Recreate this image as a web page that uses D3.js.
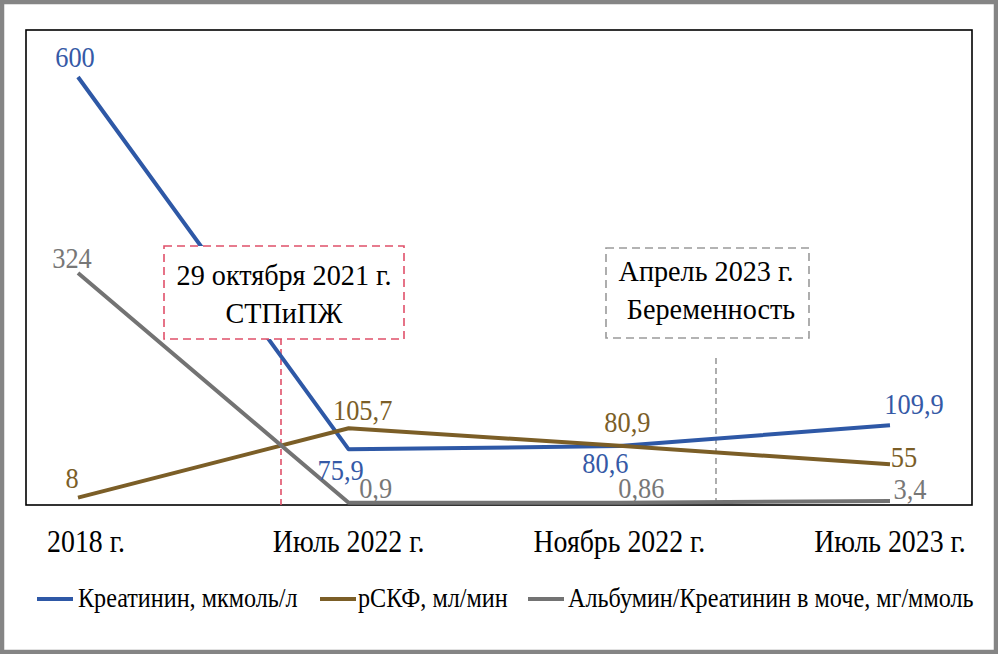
<!DOCTYPE html>
<html>
<head>
<meta charset="utf-8">
<script src="https://cdn.jsdelivr.net/npm/d3@7"></script>
<style>
  html, body { margin: 0; padding: 0; background: #fff; }
  svg { display: block; }
</style>
</head>
<body>
<svg id="chart" width="998" height="654"></svg>
<script>
// ---- data ----
const categories = ["2018 г.", "Июль 2022 г.", "Ноябрь 2022 г.", "Июль 2023 г."];
const creatinine = [600, 75.9, 80.6, 109.9];
const egfr = [8, 105.7, 80.9, 55];
const acr = [324, 0.9, 0.86, 3.4];
const seriesNames = ["Креатинин, мкмоль/л", "рСКФ, мл/мин", "Альбумин/Креатинин в моче, мг/ммоль"];
const annotationTexts = [["29 октября 2021 г.", "СТПиПЖ"], ["Апрель 2023 г.", "Беременность"]];

// ---- layout / style ----
const W = 998, H = 654;
const FONT = "'Liberation Serif', 'Times New Roman', Tinos, Times, 'DejaVu Serif', serif";
const plot = { left: 26, top: 30, right: 972, bottom: 505 };
const colors = ["#2e58a6", "#7b5e27", "#737373"];
const labelColors = ["#3559a6", "#7b5e27", "#777777"];
const SX = 0.87;

const svg = d3.select("#chart");

const x = d3.scalePoint().domain(categories).range([78, 890]);
const y = d3.scaleLinear().domain([0, 600]).range([503.3, 77]);

function txt(g, str, tx, ty, size, color, anchor, sx) {
  return g.append("text")
    .attr("transform", `translate(${tx},${ty}) scale(${sx || SX},1)`)
    .attr("text-anchor", anchor || "middle")
    .style("font-family", FONT)
    .style("font-size", size + "px")
    .attr("fill", color)
    .text(str);
}

// outer border
svg.append("rect").attr("x", 0).attr("y", 0).attr("width", W).attr("height", H)
  .attr("fill", "#fff");
svg.append("rect").attr("x", 2).attr("y", 2).attr("width", W - 4).attr("height", H - 4)
  .attr("fill", "none").attr("stroke", "#858585").attr("stroke-width", 4.5);

// plot frame
svg.append("rect")
  .attr("x", plot.left).attr("y", plot.top)
  .attr("width", plot.right - plot.left).attr("height", plot.bottom - plot.top)
  .attr("fill", "none").attr("stroke", "#000").attr("stroke-width", 1.6);

// x axis labels via d3 axis (no lines)
const xAxis = svg.append("g").attr("transform", `translate(0,${552})`)
  .call(d3.axisBottom(x).tickSize(0).tickPadding(0));
xAxis.select(".domain").remove();
xAxis.selectAll(".tick text")
  .style("font-family", FONT)
  .style("font-size", "32px")
  .attr("fill", "#000")
  .attr("dy", 0).attr("y", 0)
  .attr("transform", `scale(${0.87},1)`);
xAxis.selectAll(".tick").attr("transform", d => `translate(${x(d) + (d === categories[0] ? 8 : 0)},0)`);

// vertical marker lines
const markers = [
  { xv: 281, y1: 339, color: "#e0506a" },
  { xv: 716, y1: 358, color: "#9a9a9a" }
];
markers.forEach(m => {
  svg.append("line").attr("x1", m.xv).attr("x2", m.xv)
    .attr("y1", m.y1).attr("y2", plot.bottom)
    .attr("stroke", m.color).attr("stroke-width", 1.6).attr("stroke-dasharray", "6,4");
});

// series lines
const allSeries = [creatinine, egfr, acr];
const line = d3.line().x((d, i) => x(categories[i])).y(d => y(d));
allSeries.forEach((s, k) => {
  svg.append("path").datum(s)
    .attr("d", line)
    .attr("fill", "none")
    .attr("stroke", colors[k])
    .attr("stroke-width", 4)
    .attr("stroke-linejoin", "round")
    .attr("stroke-linecap", "butt");
});

// annotation boxes (white fill hides lines beneath)
const boxes = [
  { x: 164, y: 246, w: 240, h: 93, color: "#e0506a", cx: 284, b1: 285, b2: 323 },
  { x: 606, y: 248, w: 203, h: 90, color: "#9a9a9a", cx: 706, b1: 281, b2: 319 }
];
boxes.forEach((b, i) => {
  svg.append("rect").attr("x", b.x).attr("y", b.y).attr("width", b.w).attr("height", b.h)
    .attr("fill", "#fff").attr("stroke", b.color).attr("stroke-width", 1.6)
    .attr("stroke-dasharray", "8,5");
  txt(svg, annotationTexts[i][0], b.cx, b.b1, 30, "#000", "middle", 0.94);
  txt(svg, annotationTexts[i][1], b.cx + (i === 1 ? 5 : 0), b.b2, 30, "#000", "middle", 0.94);
});

// data labels
const labelOffsets = [
  [[-3, -10], [-8, 31], [-14, 27], [24, -11]],
  [[-6, -10], [14, -8], [8, -14], [14, 3]],
  [[-6, -5], [27, -5], [22, -5], [20, -2]]
];
const fmt = v => String(v).replace(".", ",");
allSeries.forEach((s, k) => {
  s.forEach((v, i) => {
    const [dx, dy] = labelOffsets[k][i];
    txt(svg, fmt(v), x(categories[i]) + dx, y(v) + dy, 30, labelColors[k], "middle", 0.88);
  });
});

// legend
const legendY = 599;
const legendItems = [
  { x1: 37, tx: 78 },
  { x1: 320, tx: 358 },
  { x1: 528, tx: 568 }
];
legendItems.forEach((it, k) => {
  svg.append("line").attr("x1", it.x1).attr("x2", it.x1 + 36)
    .attr("y1", legendY).attr("y2", legendY)
    .attr("stroke", colors[k]).attr("stroke-width", 4);
  txt(svg, seriesNames[k], it.tx, legendY + 8, 27, "#000", "start", 0.895);
});
</script>
</body>
</html>
